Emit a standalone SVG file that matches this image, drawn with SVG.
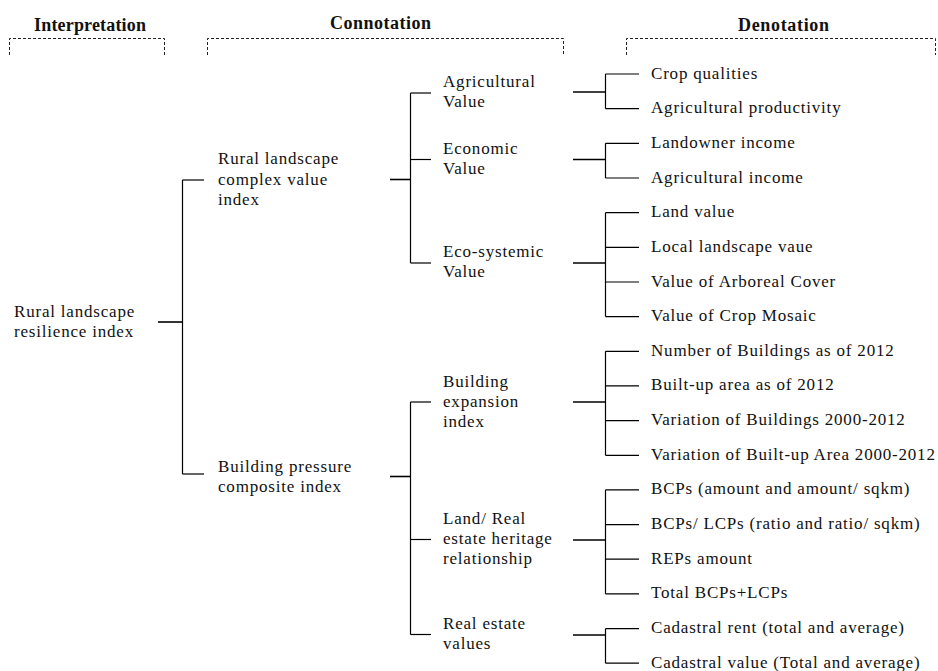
<svg xmlns="http://www.w3.org/2000/svg" width="938" height="671" viewBox="0 0 938 671">
<style>
text{font-family:"Liberation Serif","Times New Roman",serif;font-size:17px;fill:#111;letter-spacing:0.8px}
text.h{font-weight:bold;font-size:18px;letter-spacing:0}
.br{fill:none;stroke:#222;stroke-width:1;stroke-dasharray:3 2}
.c line{stroke:#000;stroke-width:1.2}
.c line.s{stroke-width:1.6}
</style>
<rect width="938" height="671" fill="#fff"/>
<g id="headers">
<text class="h" x="34" y="30.5" textLength="112" lengthAdjust="spacing">Interpretation</text>
<text class="h" x="330" y="28.5" textLength="101" lengthAdjust="spacing">Connotation</text>
<text class="h" x="738" y="30.5" textLength="91" lengthAdjust="spacing">Denotation</text>
<path class="br" d="M9.5 55V38.5H164.5V55"/>
<path class="br" d="M207.5 55V38.5H563.5V55"/>
<path class="br" d="M626.5 55V38.5H935.5V55"/>
</g>
<g id="connectors" class="c">
<line class="s" x1="158" y1="322" x2="183" y2="322"/>
<line x1="182.5" y1="180" x2="182.5" y2="474"/>
<line x1="182.5" y1="180" x2="204" y2="180"/>
<line x1="182.5" y1="474" x2="204" y2="474"/>
<line class="s" x1="390" y1="179.5" x2="411" y2="179.5"/>
<line x1="410.5" y1="93" x2="410.5" y2="263"/>
<line x1="410.5" y1="93" x2="431" y2="93"/>
<line x1="410.5" y1="159.5" x2="431" y2="159.5"/>
<line x1="410.5" y1="263" x2="431" y2="263"/>
<line class="s" x1="390" y1="476.5" x2="411" y2="476.5"/>
<line x1="410.5" y1="402" x2="410.5" y2="634.5"/>
<line x1="410.5" y1="402" x2="431" y2="402"/>
<line x1="410.5" y1="539.5" x2="431" y2="539.5"/>
<line x1="410.5" y1="634.5" x2="431" y2="634.5"/>
<line class="s" x1="573" y1="92" x2="606" y2="92"/>
<line x1="605.5" y1="74" x2="605.5" y2="108.7"/>
<line x1="605.5" y1="74" x2="639" y2="74"/>
<line x1="605.5" y1="108.7" x2="639" y2="108.7"/>
<line class="s" x1="573" y1="159.5" x2="606" y2="159.5"/>
<line x1="605.5" y1="143.3" x2="605.5" y2="178"/>
<line x1="605.5" y1="143.3" x2="639" y2="143.3"/>
<line x1="605.5" y1="178" x2="639" y2="178"/>
<line class="s" x1="573" y1="263" x2="606" y2="263"/>
<line x1="605.5" y1="212.6" x2="605.5" y2="316.6"/>
<line x1="605.5" y1="212.6" x2="639" y2="212.6"/>
<line x1="605.5" y1="247.3" x2="639" y2="247.3"/>
<line x1="605.5" y1="282" x2="639" y2="282"/>
<line x1="605.5" y1="316.6" x2="639" y2="316.6"/>
<line class="s" x1="573" y1="402" x2="606" y2="402"/>
<line x1="605.5" y1="351.3" x2="605.5" y2="455.3"/>
<line x1="605.5" y1="351.3" x2="639" y2="351.3"/>
<line x1="605.5" y1="385.9" x2="639" y2="385.9"/>
<line x1="605.5" y1="420.6" x2="639" y2="420.6"/>
<line x1="605.5" y1="455.3" x2="639" y2="455.3"/>
<line class="s" x1="573" y1="540" x2="606" y2="540"/>
<line x1="605.5" y1="489.9" x2="605.5" y2="593.9"/>
<line x1="605.5" y1="489.9" x2="639" y2="489.9"/>
<line x1="605.5" y1="524.6" x2="639" y2="524.6"/>
<line x1="605.5" y1="559.2" x2="639" y2="559.2"/>
<line x1="605.5" y1="593.9" x2="639" y2="593.9"/>
<line class="s" x1="573" y1="635" x2="606" y2="635"/>
<line x1="605.5" y1="628.6" x2="605.5" y2="663.2"/>
<line x1="605.5" y1="628.6" x2="639" y2="628.6"/>
<line x1="605.5" y1="663.2" x2="639" y2="663.2"/>
</g>
<g id="n-root"><text x="14" y="317">Rural landscape</text><text x="14" y="337">resilience index</text></g>
<g id="n-complex"><text x="218" y="164">Rural landscape</text><text x="218" y="184.5">complex value</text><text x="218" y="205">index</text></g>
<g id="n-pressure"><text x="218" y="471.5">Building pressure</text><text x="218" y="491.5">composite index</text></g>
<g id="n-agri"><text x="443" y="87">Agricultural</text><text x="443" y="107">Value</text></g>
<g id="n-econ"><text x="443" y="153.5">Economic</text><text x="443" y="173.5">Value</text></g>
<g id="n-eco"><text x="443" y="257">Eco-systemic</text><text x="443" y="277">Value</text></g>
<g id="n-build"><text x="443" y="387">Building</text><text x="443" y="407">expansion</text><text x="443" y="427">index</text></g>
<g id="n-land"><text x="443" y="524">Land/ Real</text><text x="443" y="544">estate heritage</text><text x="443" y="564">relationship</text></g>
<g id="n-realestate"><text x="443" y="628.5">Real estate</text><text x="443" y="648.5">values</text></g>
<g id="l0"><text x="651" y="78.5">Crop qualities</text></g>
<g id="l1"><text x="651" y="113.2">Agricultural productivity</text></g>
<g id="l2"><text x="651" y="147.8">Landowner income</text></g>
<g id="l3"><text x="651" y="182.5">Agricultural income</text></g>
<g id="l4"><text x="651" y="217.1">Land value</text></g>
<g id="l5"><text x="651" y="251.8">Local landscape vaue</text></g>
<g id="l6"><text x="651" y="286.5">Value of Arboreal Cover</text></g>
<g id="l7"><text x="651" y="321.1">Value of Crop Mosaic</text></g>
<g id="l8"><text x="651" y="355.8">Number of Buildings as of 2012</text></g>
<g id="l9"><text x="651" y="390.4">Built-up area as of 2012</text></g>
<g id="l10"><text x="651" y="425.1">Variation of Buildings 2000-2012</text></g>
<g id="l11"><text x="651" y="459.8">Variation of Built-up Area 2000-2012</text></g>
<g id="l12"><text x="651" y="494.4">BCPs (amount and amount/ sqkm)</text></g>
<g id="l13"><text x="651" y="529.1">BCPs/ LCPs (ratio and ratio/ sqkm)</text></g>
<g id="l14"><text x="651" y="563.7">REPs amount</text></g>
<g id="l15"><text x="651" y="598.4">Total BCPs+LCPs</text></g>
<g id="l16"><text x="651" y="633.1">Cadastral rent (total and average)</text></g>
<g id="l17"><text x="651" y="667.7">Cadastral value (Total and average)</text></g>
</svg>
